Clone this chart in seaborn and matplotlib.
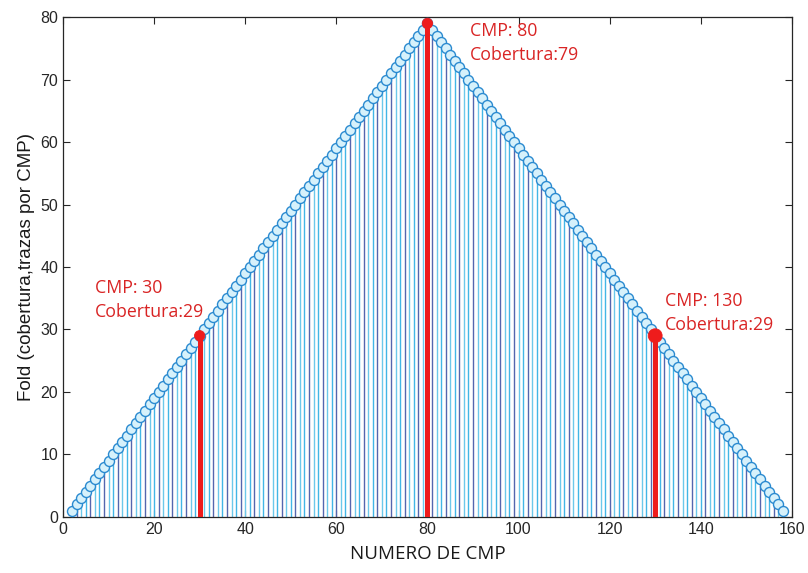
import numpy as np
import pandas as pd

import matplotlib
matplotlib.use('Agg')
import matplotlib.pyplot as plt
import seaborn as sns

sns.set_style('ticks')
plt.rcParams['font.family'] = ['Liberation Sans', 'DejaVu Sans']

# numero de CMP y cobertura (fold)
cmp_num = list(range(2, 159))
fold = [1, 2, 3, 4, 5, 6, 7, 8, 9, 10, 11, 12, 13, 14, 15, 16, 17, 18, 19, 20,
        21, 22, 23, 24, 25, 26, 27, 28, 29, 30, 31, 32, 33, 34, 35, 36, 37, 38, 39, 40,
        41, 42, 43, 44, 45, 46, 47, 48, 49, 50, 51, 52, 53, 54, 55, 56, 57, 58, 59, 60,
        61, 62, 63, 64, 65, 66, 67, 68, 69, 70, 71, 72, 73, 74, 75, 76, 77, 78, 79,
        78, 77, 76, 75, 74, 73, 72, 71, 70, 69, 68, 67, 66, 65, 64, 63, 62, 61, 60,
        59, 58, 57, 56, 55, 54, 53, 52, 51, 50, 49, 48, 47, 46, 45, 44, 43, 42, 41, 40,
        39, 38, 37, 36, 35, 34, 33, 32, 31, 30, 29, 28, 27, 26, 25, 24, 23, 22, 21, 20,
        19, 18, 17, 16, 15, 14, 13, 12, 11, 10, 9, 8, 7, 6, 5, 4, 3, 2, 1]

# CMPs resaltados
hl_cmp = [30, 80, 130]
hl_fold = [29, 79, 29]
hl_size = [45, 45, 80]

df = pd.DataFrame({'cmp': cmp_num, 'fold': fold})

fig = plt.figure(figsize=(8.08, 5.73), dpi=100)
ax = fig.add_axes([0.078, 0.098, 0.902, 0.872])

# stems (mixed shades like the original screenshot)
shades = ['#42b6e6', '#5466ae', '#6cc8ea']
colors = [shades[i % 3] for i in range(len(df))]
ax.vlines(df['cmp'], 0, df['fold'], colors=colors, linewidth=1.0, zorder=1)
sns.scatterplot(data=df, x='cmp', y='fold', ax=ax, s=52, marker='o',
                facecolor='#d6f1fb', edgecolor='#2a8ad0', linewidth=1.0, zorder=3)

# red highlights
ax.vlines(hl_cmp, 0, hl_fold, colors='#ee1c1c', linewidth=3.6, zorder=4)
sns.scatterplot(x=hl_cmp, y=hl_fold, size=hl_size, sizes=(55, 100), ax=ax,
                color='#ee1c1c', edgecolor='#ee1c1c', legend=False, zorder=5)

txt_kw = dict(color='#d92424', fontsize=12.8, family=['Open Sans', 'DejaVu Sans'],
              va='center', ha='left', linespacing=1.4)
ax.text(7.0, 34.7, 'CMP: 30\nCobertura:29', **txt_kw)
ax.text(89.3, 75.9, 'CMP: 80\nCobertura:79', **txt_kw)
ax.text(132.1, 32.6, 'CMP: 130\nCobertura:29', **txt_kw)

ax.set_xlim(0, 160)
ax.set_ylim(0, 80)
ax.set_xticks(np.arange(0, 161, 20))
ax.set_yticks(np.arange(0, 81, 10))
ax.tick_params(direction='in', top=True, right=True, length=5, width=0.8,
               labelsize=11.5, colors='#262626')
for sp in ax.spines.values():
    sp.set_visible(True)
    sp.set_linewidth(0.9)
    sp.set_color('#262626')

ax.set_xlabel('NUMERO DE CMP', fontsize=13.5, family=['Open Sans', 'DejaVu Sans'],
              color='#1a1a1a', labelpad=6)
ax.set_ylabel('Fold (cobertura,trazas por CMP)', fontsize=13.5, color='#1a1a1a', labelpad=4)

fig.savefig('out.png', dpi=100)
